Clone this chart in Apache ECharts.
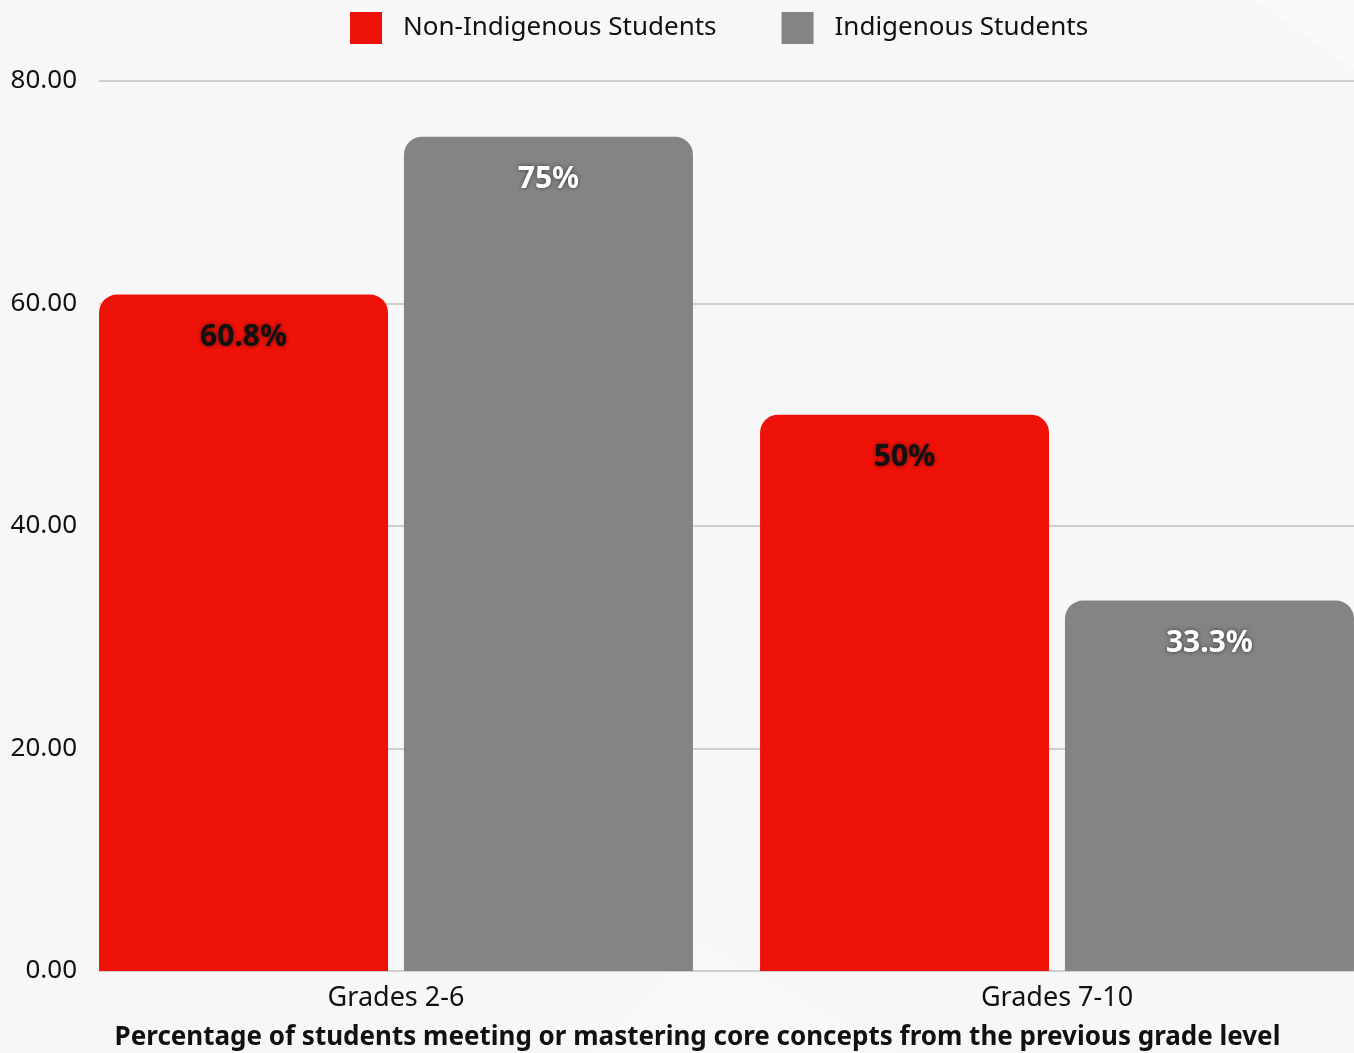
<!DOCTYPE html>
<html>
<head>
<meta charset="utf-8">
<style>
  html, body { margin: 0; padding: 0; background: #f7f7f7; }
  #chart { width: 1354px; height: 1053px; }
</style>
<script src="https://cdn.jsdelivr.net/npm/echarts@6/dist/echarts.min.js"></script>
</head>
<body>
<div id="chart"></div>
<script>
// Share of students meeting or mastering prior-grade core concepts
const categories = ['Grades 2-6', 'Grades 7-10'];
const nonIndigenous = [60.8, 50];
const indigenous = [75, 33.3];
const seriesNames = ['Non-Indigenous Students', 'Indigenous Students'];
const yTicks = { min: 0, max: 80, interval: 20 };
const xTitle = 'Percentage of students meeting or mastering core concepts from the previous grade level';

const FONT = '"Noto Sans", sans-serif';
const RED = '#ef1209';
const GREY = '#858482';

const chart = echarts.init(document.getElementById('chart'));

const labelFmt = p => p.value + '%';

chart.setOption({
  backgroundColor: '#f7f7f7',
  animation: false,
  graphic: [
    { type: 'polygon', silent: true, z: -10,
      shape: { points: [[1255, 0], [1354, 0], [1354, 70]] },
      style: { fill: 'rgba(255,255,255,0.4)' } },
    { type: 'polygon', silent: true, z: -10,
      shape: { points: [[590, 1053], [700, 940], [900, 1053]] },
      style: { fill: 'rgba(255,255,255,0.2)' } }
  ],
  legend: {
    left: 345, top: 7,
    itemWidth: 32, itemHeight: 32, itemGap: 65,
    icon: 'rect',
    textStyle: { fontFamily: FONT, fontSize: 26, color: '#111', padding: [0, 0, 0, 16] },
    data: seriesNames
  },
  grid: [
    // bar grid: one category band = bar pair + outer gap, so it runs past the right edge
    { left: 65.5, width: 1322, top: 81, height: 890, outerBoundsMode: 'none', containLabel: false },
    // frame grid: gridlines and y-axis labels
    { left: 99, width: 1255, top: 81, height: 890, outerBoundsMode: 'none', containLabel: false }
  ],
  xAxis: [
    { type: 'category', gridIndex: 0, data: categories,
      axisLine: { show: false }, axisTick: { show: false },
      axisLabel: { fontFamily: FONT, fontSize: 27, color: '#111', margin: 14 },
      name: xTitle, nameLocation: 'middle', nameGap: 54,
      nameTextStyle: { fontFamily: FONT, fontSize: 26, fontWeight: 'bold', color: '#111', padding: [0, 0, 0, -58] } },
    { type: 'category', gridIndex: 1, data: categories,
      axisLine: { show: false }, axisTick: { show: false }, axisLabel: { show: false } }
  ],
  yAxis: [
    { type: 'value', gridIndex: 0, min: yTicks.min, max: yTicks.max, interval: yTicks.interval, show: false },
    { type: 'value', gridIndex: 1, min: yTicks.min, max: yTicks.max, interval: yTicks.interval,
      axisLine: { show: false }, axisTick: { show: false },
      axisLabel: { fontFamily: FONT, fontSize: 26, color: '#111', margin: 22,
        formatter: v => v.toFixed(2) },
      splitLine: { lineStyle: { color: '#cfcfcf', width: 2 } } }
  ],
  series: [
    { name: seriesNames[0], type: 'bar', xAxisIndex: 0, yAxisIndex: 0,
      data: nonIndigenous, barWidth: 289, barGap: '5.5%',
      itemStyle: { color: RED, borderRadius: [18, 18, 0, 0] },
      label: { show: true, position: 'insideTop', distance: 28, formatter: labelFmt,
        fontFamily: FONT, fontSize: 30, fontWeight: 'bold', color: '#111',
        textShadowColor: 'rgba(0,0,0,0.55)', textShadowBlur: 4 } },
    { name: seriesNames[1], type: 'bar', xAxisIndex: 0, yAxisIndex: 0,
      data: indigenous, barWidth: 289,
      itemStyle: { color: GREY, borderRadius: [18, 18, 0, 0] },
      label: { show: true, position: 'insideTop', distance: 28, formatter: labelFmt,
        fontFamily: FONT, fontSize: 30, fontWeight: 'bold', color: '#ffffff',
        textShadowColor: 'rgba(0,0,0,0.55)', textShadowBlur: 4 } }
  ]
});
</script>
</body>
</html>
